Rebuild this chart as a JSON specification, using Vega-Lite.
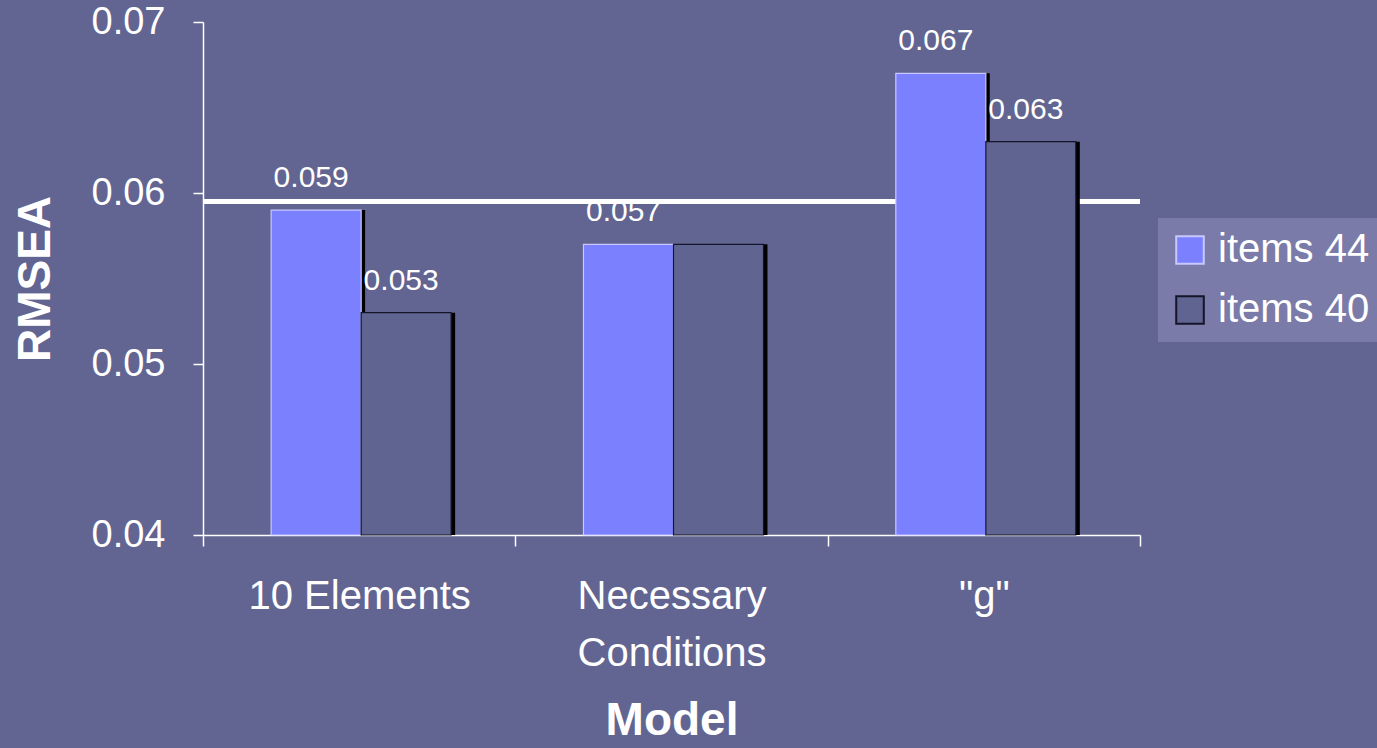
{
  "$schema": "https://vega.github.io/schema/vega-lite/v6.json",
  "width": 937,
  "height": 513,
  "autosize": {"type": "none"},
  "padding": {"left": 203, "top": 22, "right": 237, "bottom": 213},
  "background": "#626592",
  "config": {
    "view": {"stroke": null},
    "font": "Liberation Sans",
    "axis": {
      "domainColor": "#ffffff",
      "domainWidth": 1.5,
      "tickColor": "#ffffff",
      "tickWidth": 1.5,
      "labelColor": "#ffffff",
      "labelFont": "Liberation Sans",
      "labelLimit": 400,
      "titleColor": "#ffffff",
      "titleFont": "Liberation Sans",
      "titleFontWeight": "bold",
      "grid": false
    },
    "legend": {
      "orient": "none",
      "legendX": 955,
      "legendY": 196,
      "fillColor": "#7a7ba8",
      "padding": 12,
      "symbolType": "square",
      "symbolSize": 760,
      "symbolStrokeWidth": 2,
      "symbolOpacity": 1,
      "labelFontSize": 40,
      "labelColor": "#ffffff",
      "labelFont": "Liberation Sans",
      "labelOffset": 8,
      "rowPadding": 20,
      "labelLimit": 400
    }
  },
  "datasets": {
    "rmsea": [
      {"model": "10 Elements", "items": "items 44", "rmsea": 0.059, "label": "0.059"},
      {"model": "10 Elements", "items": "items 40", "rmsea": 0.053, "label": "0.053"},
      {"model": "Necessary Conditions", "items": "items 44", "rmsea": 0.057, "label": "0.057"},
      {"model": "Necessary Conditions", "items": "items 40", "rmsea": 0.057, "label": ""},
      {"model": "\"g\"", "items": "items 44", "rmsea": 0.067, "label": "0.067"},
      {"model": "\"g\"", "items": "items 40", "rmsea": 0.063, "label": "0.063"}
    ],
    "reference": [{"cutoff": 0.0595}]
  },
  "resolve": {"scale": {"xOffset": "independent"}},
  "layer": [
    {
      "data": {"name": "reference"},
      "mark": {"type": "rule", "color": "#ffffff", "strokeWidth": 5},
      "encoding": {
        "y": {
          "field": "cutoff",
          "type": "quantitative",
          "scale": {"domain": [0.04, 0.07], "nice": false, "zero": false},
          "axis": {
            "values": [0.04, 0.05, 0.06, 0.07],
            "format": ".2f",
            "labelFontSize": 38,
            "labelPadding": 28,
            "tickSize": 10,
            "title": "RMSEA",
            "titleFontSize": 46,
            "titlePadding": 32
          }
        }
      }
    },
    {
      "data": {"name": "rmsea"},
      "mark": {"type": "bar", "color": "#000000"},
      "encoding": {
        "x": {
          "field": "model",
          "type": "nominal",
          "sort": null,
          "scale": {"paddingInner": 0, "paddingOuter": 0},
          "axis": {
            "labelAngle": 0,
            "labelFontSize": 40,
            "labelPadding": 30,
            "labelLineHeight": 57,
            "labelExpr": "datum.value == 'Necessary Conditions' ? ['Necessary', 'Conditions'] : datum.label",
            "tickSize": 11,
            "tickBand": "extent",
            "title": "Model",
            "titleFontSize": 46,
            "titlePadding": 25
          }
        },
        "xOffset": {"field": "items", "type": "nominal", "sort": ["items 44", "items 40"], "scale": {"type": "band", "paddingInner": 0, "paddingOuter": 0.735, "align": 0.545}},
        "y": {"field": "rmsea", "type": "quantitative"},
        "y2": {"datum": 0.04}
      }
    },
    {
      "data": {"name": "rmsea"},
      "mark": {"type": "bar", "strokeWidth": 1.2},
      "encoding": {
        "x": {"field": "model", "type": "nominal", "sort": null},
        "xOffset": {"field": "items", "type": "nominal", "sort": ["items 44", "items 40"], "scale": {"type": "band", "paddingInner": 0, "paddingOuter": 0.735, "align": 0.515}},
        "y": {"field": "rmsea", "type": "quantitative"},
        "y2": {"datum": 0.04},
        "color": {
          "field": "items",
          "type": "nominal",
          "sort": ["items 44", "items 40"],
          "scale": {"domain": ["items 44", "items 40"], "range": ["#7b80ff", "#606491"]},
          "legend": {"title": null}
        },
        "stroke": {
          "field": "items",
          "type": "nominal",
          "sort": ["items 44", "items 40"],
          "scale": {"domain": ["items 44", "items 40"], "range": ["#c8c8ff", "#14142a"]},
          "legend": {"title": null}
        }
      }
    },
    {
      "data": {"name": "rmsea"},
      "transform": [{"filter": "datum.label != ''"}],
      "mark": {"type": "text", "color": "#ffffff", "fontSize": 30, "baseline": "alphabetic", "dx": -5, "dy": -23},
      "encoding": {
        "x": {"field": "model", "type": "nominal", "sort": null},
        "xOffset": {"field": "items", "type": "nominal", "sort": ["items 44", "items 40"], "scale": {"type": "band", "paddingInner": 0, "paddingOuter": 0.735, "align": 0.515}},
        "y": {"field": "rmsea", "type": "quantitative"},
        "text": {"field": "label", "type": "nominal"}
      }
    }
  ]
}
